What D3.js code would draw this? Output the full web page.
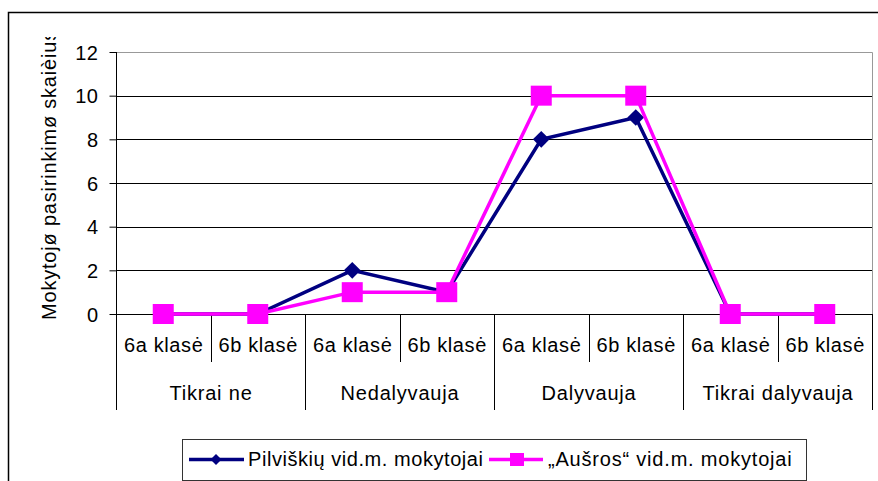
<!DOCTYPE html>
<html>
<head>
<meta charset="utf-8">
<script src="https://cdn.jsdelivr.net/npm/d3@7"></script>
<style>
  body { margin: 0; background: #fff; }
  svg text { font-family: Arial, "Liberation Sans", sans-serif; fill: #000; font-size: 20px; letter-spacing: 0.8px; }
</style>
</head>
<body>
<svg id="chart" width="878" height="481"></svg>
<script>
// data
const groups = ["Tikrai ne", "Nedalyvauja", "Dalyvauja", "Tikrai dalyvauja"];
const classes = ["6a klasė", "6b klasė"];
const pilviskiu = [0, 0, 2, 1, 8, 9, 0, 0];
const ausros = [0, 0, 1, 1, 10, 10, 0, 0];
const yTicks = [0, 2, 4, 6, 8, 10, 12];
const seriesNames = ["Pilviškių vid.m. mokytojai", "„Aušros“ vid.m. mokytojai"];
const yTitle = "Mokytojø pasirinkimø skaièius";

const svg = d3.select("#chart");
const pLeft = 116, pRight = 872, pTop = 52, pBottom = 314;

// outer chart border (runs off right and bottom)
svg.append("path")
    .attr("d", "M8.5 490 L8.5 12.5 L890 12.5")
    .attr("fill", "none")
    .attr("stroke", "#000")
    .attr("stroke-width", 1.5);

// x positions: one band per (group, class)
let cats = [];
groups.forEach((g, gi) => classes.forEach((c, ci) => cats.push({ group: g, cls: c, i: gi * 2 + ci })));
let x = d3.scaleBand().domain(cats.map(d => d.i)).range([pLeft, pRight]).padding(0);
let cx = i => x(i) + x.bandwidth() / 2;

let y = d3.scaleLinear().domain([0, 12]).range([pBottom, pTop]);

// gridlines
svg.append("g").selectAll("line")
    .data(yTicks.filter(t => t > 0 && t < 12))
    .enter().append("line")
    .attr("x1", pLeft).attr("x2", pRight)
    .attr("y1", d => Math.round(y(d)) + 0.5).attr("y2", d => Math.round(y(d)) + 0.5)
    .attr("stroke", "#000");

// plot area top and right (grey)
svg.append("path")
    .attr("d", `M${pLeft} ${pTop + 0.5} L${pRight + 0.5} ${pTop + 0.5} L${pRight + 0.5} ${pBottom}`)
    .attr("fill", "none")
    .attr("stroke", "#999")
    .attr("stroke-width", 1);

// y axis
let yAxis = d3.axisLeft(y).tickValues(yTicks).tickSize(7).tickSizeOuter(0).tickPadding(11);
let yg = svg.append("g").attr("transform", `translate(${pLeft + 0.5},0)`).call(yAxis);
yg.select(".domain").remove();
yg.attr("font-size", null).attr("font-family", null);
yg.selectAll("line").attr("stroke", "#000");
yg.selectAll("text").style("letter-spacing", "0.5px").attr("dy", "0.36em");

// axis lines: left axis down to group labels, x axis
svg.append("line").attr("x1", pLeft + 0.5).attr("x2", pLeft + 0.5)
    .attr("y1", pTop).attr("y2", 410).attr("stroke", "#000");
svg.append("line").attr("x1", pLeft).attr("x2", pRight + 1)
    .attr("y1", pBottom + 0.5).attr("y2", pBottom + 0.5).attr("stroke", "#000");
svg.append("line").attr("x1", pRight + 0.5).attr("x2", pRight + 0.5)
    .attr("y1", pBottom).attr("y2", 410).attr("stroke", "#000");

// category separators
let xg = svg.append("g");
cats.forEach(d => {
    if (d.i == 0) return;
    let xs = Math.round(x(d.i)) + 0.5;
    let tall = d.i % 2 == 0;
    xg.append("line").attr("x1", xs).attr("x2", xs)
        .attr("y1", pBottom).attr("y2", tall ? 410 : 362)
        .attr("stroke", "#000");
});
xg.selectAll("text.cls")
    .data(cats)
    .enter().append("text")
    .attr("class", "cls")
    .attr("x", d => cx(d.i) + 0.5)
    .attr("y", 352)
    .attr("text-anchor", "middle")
    .style("letter-spacing", "0.6px")
    .text(d => d.cls);
xg.selectAll("text.grp")
    .data(groups)
    .enter().append("text")
    .attr("class", "grp")
    .attr("x", (d, gi) => (x(gi * 2) + x(gi * 2 + 1) + x.bandwidth()) / 2 + 0.5)
    .attr("y", 400)
    .attr("text-anchor", "middle")
    .text(d => d);

// y title, clipped at the top like the original
svg.append("clipPath").attr("id", "titleClip")
    .append("rect").attr("x", 20).attr("y", 37).attr("width", 60).attr("height", 400);
svg.append("g").attr("clip-path", "url(#titleClip)")
    .append("text")
    .attr("transform", "translate(56,320) rotate(-90)")
    .text(yTitle);

// lines and markers
let line = d3.line().x((d, i) => cx(i)).y(d => y(d));
let diamond = d3.symbol().type(d3.symbolSquare).size(140);

svg.append("path").datum(pilviskiu)
    .attr("d", line)
    .attr("fill", "none").attr("stroke", "#000080").attr("stroke-width", 3.5);
svg.append("g").selectAll("path")
    .data(pilviskiu)
    .enter().append("path")
    .attr("d", diamond)
    .attr("transform", (d, i) => `translate(${cx(i)},${y(d)}) rotate(45)`)
    .attr("fill", "#000080");

svg.append("path").datum(ausros)
    .attr("d", line)
    .attr("fill", "none").attr("stroke", "#ff00ff").attr("stroke-width", 3.5);
svg.append("g").selectAll("rect")
    .data(ausros)
    .enter().append("rect")
    .attr("x", (d, i) => cx(i) - 10.5)
    .attr("y", d => y(d) - 10)
    .attr("width", 21).attr("height", 20)
    .attr("fill", "#ff00ff");

// legend
let lg = svg.append("g");
lg.append("rect").attr("x", 182.5).attr("y", 439.5).attr("width", 624).attr("height", 41)
    .attr("fill", "#fff").attr("stroke", "#333");
lg.append("line").attr("x1", 189).attr("x2", 244).attr("y1", 459.5).attr("y2", 459.5)
    .attr("stroke", "#000080").attr("stroke-width", 3.5);
lg.append("path").attr("d", d3.symbol().type(d3.symbolSquare).size(60))
    .attr("transform", "translate(216,459.5) rotate(45)")
    .attr("fill", "#000080");
lg.append("text").attr("x", 248).attr("y", 466).style("letter-spacing", "0.55px").text(seriesNames[0]);
lg.append("line").attr("x1", 489).attr("x2", 543).attr("y1", 459.5).attr("y2", 459.5)
    .attr("stroke", "#ff00ff").attr("stroke-width", 3.5);
lg.append("rect").attr("x", 510).attr("y", 453).attr("width", 14).attr("height", 13)
    .attr("fill", "#ff00ff");
lg.append("text").attr("x", 548).attr("y", 466).text(seriesNames[1]);
</script>
</body>
</html>
